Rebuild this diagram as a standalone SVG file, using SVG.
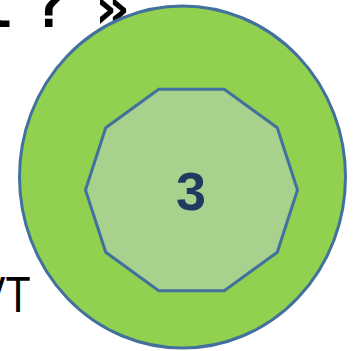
<svg xmlns="http://www.w3.org/2000/svg" width="360" height="351" viewBox="0 0 360 351">
  <style>
    .shape { stroke: #41719C; stroke-width: 3; }
    .outer { fill: #92D050; }
    .inner { fill: #A9D18E; }
    .num { font-family: "Liberation Sans", Arial, sans-serif; font-weight: bold; font-size: 54px; fill: #1F3A5F; text-anchor: middle; }
    .mono { font-family: "DejaVu Sans Mono", monospace; font-weight: bold; font-size: 58px; fill: #000; text-anchor: middle; }
    .side { font-family: "Liberation Sans", Arial, sans-serif; font-size: 50px; fill: #000; }
  </style>
  <rect width="360" height="351" fill="#FFFFFF"/>
  <g id="text-top">
    <text class="mono" x="-4" y="27">l</text>
    <text class="mono" x="50" y="27">?</text>
    <text class="mono" x="112" y="28">»</text>
  </g>
  <g id="text-left">
    <text class="side" text-anchor="end" transform="translate(30.5,311.7) scale(0.82,1)">VT</text>
    <text class="side" transform="translate(-8,379) scale(0.82,1)">son</text>
  </g>
  <g id="outer-ellipse">
    <ellipse class="shape outer" cx="182.5" cy="177" rx="163" ry="171"/>
  </g>
  <g id="inner-decagon">
    <polygon class="shape inner" points="297.5,190 277.26,252.31 224.26,290.81 158.74,290.81 105.74,252.31 85.5,190 105.74,127.69 158.74,89.19 224.26,89.19 277.26,127.69"/>
    <text class="num" x="191" y="209.5">3</text>
  </g>
  <g id="connectors"/>
</svg>
